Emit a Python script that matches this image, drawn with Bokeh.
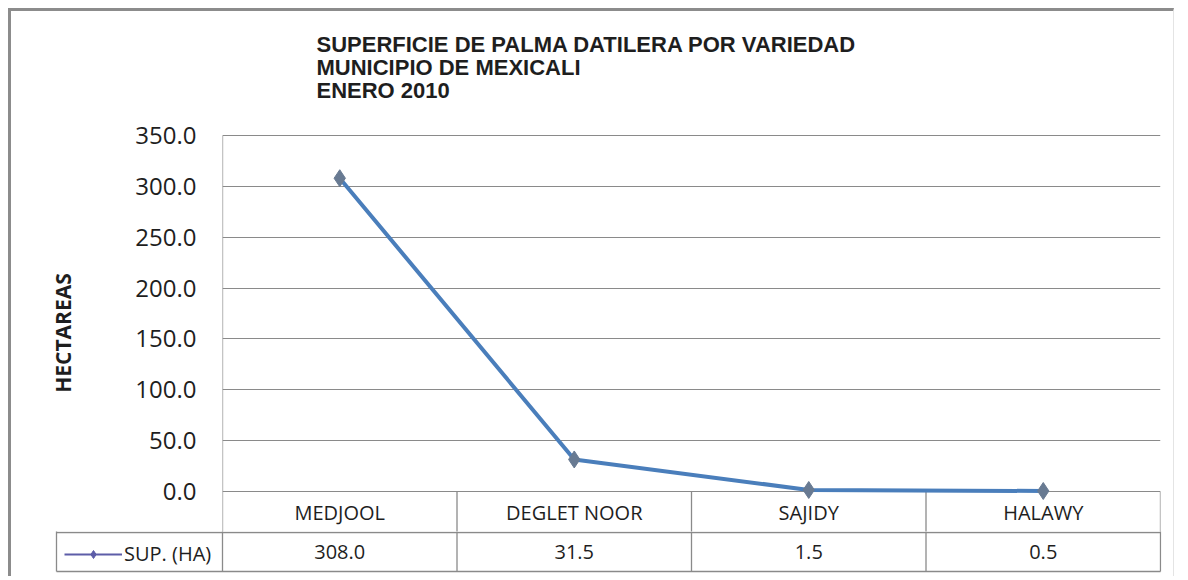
from bokeh.plotting import figure
from bokeh.models import (FactorRange, Range1d, FixedTicker, NumeralTickFormatter,
                          Legend, LegendItem, ColumnDataSource)
from bokeh.core.properties import value
from bokeh.embed import file_html
from bokeh.resources import INLINE

# ---- data ----
categories = ["MEDJOOL", "DEGLET NOOR", "SAJIDY", "HALAWY"]
sup_ha = [308.0, 31.5, 1.5, 0.5]
series_name = "SUP. (HA)"
y_ticks = [0, 50, 100, 150, 200, 250, 300, 350]
title_lines = ["SUPERFICIE DE PALMA DATILERA POR VARIEDAD",
               "MUNICIPIO DE MEXICALI",
               "ENERO 2010"]
y_label = "HECTAREAS"

# ---- layout constants ----
W = 1166
K = 356.0 / 350.0            # pixels per hectare
HEADER_PX = 40               # header row height below the zero line
CAT_PX = 938.0 / len(categories)
GRID = "#8a8a8a"
TXT = "#1e1e1e"
LINE_C = "#4A7EBB"
MARK_C = "#687a92"
KEY_C = "#5d5da8"
BORDER = "3px solid #8c8c8c"
FAINT = "1px solid #e4e4e4"

n = len(categories)
first, last = categories[0], categories[-1]

# ================= title strip =================
TH = 100
head = figure(width=W, height=TH, x_range=Range1d(0, W), y_range=Range1d(-TH, 0),
              x_axis_location=None, y_axis_location=None,
              output_backend="svg", toolbar_location=None,
              min_border=0,
              styles={"margin-left": "8px", "margin-top": "8px",
                      "border-left": BORDER, "border-top": BORDER, "border-right": FAINT})
head.outline_line_color = None
head.border_fill_color = "white"
head.xgrid.grid_line_color = None
head.ygrid.grid_line_color = None
head.text(x=[305] * len(title_lines), y=[-33 - 23 * i for i in range(len(title_lines))],
          text=title_lines, text_align="left", text_baseline="middle",
          text_font=value("Liberation Sans"), text_font_style="bold",
          text_font_size="22px", text_color=TXT)

# ================= chart + header row =================
TOP_PAD = 123 - TH + 3
top = figure(width=W, height=520 - TH + 3,
             x_range=FactorRange(factors=categories, range_padding=0),
             y_range=Range1d(-HEADER_PX / K, 350 + 1 / K),
             x_axis_location=None,
             output_backend="svg", toolbar_location=None,
             min_border_left=211, min_border_right=17,
             min_border_top=TOP_PAD, min_border_bottom=0,
             styles={"margin-left": "8px", "border-left": BORDER, "border-right": FAINT})
top.outline_line_color = None
top.border_fill_color = "white"

ax = top.yaxis[0]
ax.ticker = FixedTicker(ticks=y_ticks)
ax.formatter = NumeralTickFormatter(format="0.0")
ax.bounds = (0, 350)
ax.axis_line_color = None
ax.major_tick_line_color = None
ax.minor_tick_line_color = None
ax.major_label_standoff = 20
ax.major_label_text_font = "Open Sans"
ax.major_label_text_font_size = "24px"
ax.major_label_text_color = TXT
ax.axis_label = y_label
ax.axis_label_text_font = "Open Sans"
ax.axis_label_text_font_style = "bold"
ax.axis_label_text_font_size = "21px"
ax.axis_label_text_color = TXT
ax.axis_label_standoff = 55

top.ygrid.ticker = FixedTicker(ticks=y_ticks)
top.ygrid.grid_line_color = GRID
top.xgrid.grid_line_color = None

# plot-area left border and header-row column borders
vx = [(c, -0.5) for c in categories] + [(last, 0.5)]
vy0 = [350] + [0] * n
top.segment(x0=vx, y0=vy0, x1=vx, y1=[-2 * HEADER_PX / K] * (n + 1),
            line_color=GRID, line_width=1.3)

top.text(x=categories, y=[-(HEADER_PX + 1) / K / 2] * n, text=categories,
         text_align="center", text_baseline="middle",
         text_font=value("Open Sans"), text_font_size="20px", text_color=TXT)

src = ColumnDataSource(dict(x=categories, y=sup_ha))
top.line("x", "y", source=src, line_color=LINE_C, line_width=4)
top.scatter("x", "y", source=src, marker="diamond", size=17,
            fill_color=MARK_C, line_color=MARK_C)

# ================= value row with legend key =================
ROW_TOP, ROW_BOTTOM = -1, -40          # pixels below the top of this strip
LEG_L = -(222 - 56) / CAT_PX           # legend cell left edge, in category widths
bot = figure(width=W, height=45,
             x_range=Range1d(-(222 - 54) / CAT_PX, n + 1 / CAT_PX),
             y_range=Range1d(-45, 0),
             x_axis_location=None, y_axis_location=None,
             output_backend="svg", toolbar_location=None,
             min_border_left=43, min_border_right=16,
             min_border_top=0, min_border_bottom=0,
             styles={"margin-left": "8px", "border-left": BORDER, "border-right": FAINT})
bot.outline_line_color = None
bot.border_fill_color = "white"
bot.xgrid.grid_line_color = None
bot.ygrid.grid_line_color = None

bx = [LEG_L] + list(range(n + 1))
bot.segment(x0=bx, y0=[ROW_TOP + 2] * (n + 2), x1=bx, y1=[ROW_BOTTOM] * (n + 2),
            line_color=GRID, line_width=1.3)
bot.segment(x0=[LEG_L, LEG_L], y0=[ROW_TOP, ROW_BOTTOM], x1=[n, n], y1=[ROW_TOP, ROW_BOTTOM],
            line_color=GRID, line_width=1.3)
bot.text(x=[i + 0.5 for i in range(n)], y=[(ROW_TOP + ROW_BOTTOM) / 2] * n,
         text=[f"{v:.1f}" for v in sup_ha],
         text_align="center", text_baseline="middle",
         text_font=value("Open Sans"), text_font_size="20px", text_color=TXT)

nan = float("nan")
dl = bot.line(x=[nan], y=[nan], line_color=KEY_C, line_width=2)
ds = bot.scatter(x=[nan], y=[nan], marker="diamond", size=11,
                 fill_color=KEY_C, line_color=KEY_C)
leg = Legend(items=[LegendItem(label=series_name, renderers=[dl, ds])],
             location=(10, 9), orientation="horizontal",
             border_line_color=None, background_fill_alpha=0,
             glyph_width=58, glyph_height=20, label_standoff=2, label_height=20,
             padding=8, margin=0,
             label_text_font="Open Sans", label_text_font_size="20px",
             label_text_color=TXT)
bot.add_layout(leg)

open("out.html", "w").write(file_html([head, top, bot], INLINE))
